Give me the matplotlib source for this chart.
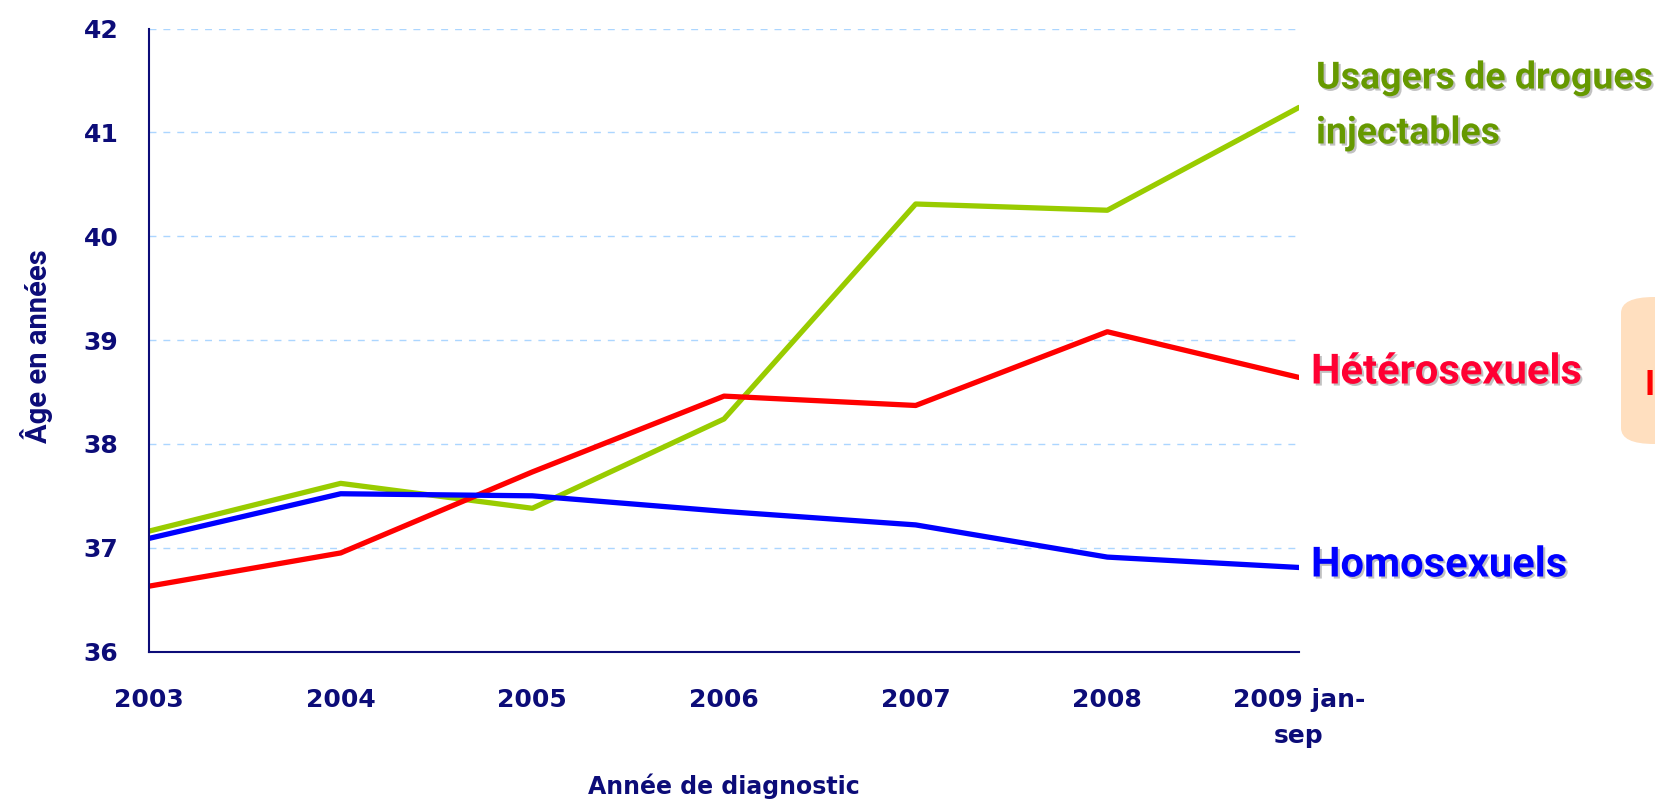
import numpy as np
import matplotlib
matplotlib.use("Agg")
import matplotlib.pyplot as plt
import matplotlib.patheffects as pe
from matplotlib.patches import FancyBboxPatch

years = ["2003", "2004", "2005", "2006", "2007", "2008", "2009 jan-\nsep"]
udi = [37.16, 37.62, 37.38, 38.24, 40.31, 40.25, 41.24]     # usagers de drogues injectables
hetero = [36.63, 36.95, 37.73, 38.46, 38.37, 39.08, 38.64]
homo = [37.09, 37.52, 37.50, 37.35, 37.22, 36.91, 36.81]

navy = "#0c0c78"
labfont = "Roboto"
tickfont = "DejaVu Sans"

fig = plt.figure(figsize=(16.56, 8), dpi=100)
ax = fig.add_axes([149/1656, 1-651.6/800, (1299-149)/1656, (651.6-28.5)/800])

x = np.arange(len(years))
ax.plot(x, udi, color="#99cc00", lw=3.8, solid_capstyle="round")
ax.plot(x, hetero, color="#ff0000", lw=3.8, solid_capstyle="round")
ax.plot(x, homo, color="#0000ff", lw=3.8, solid_capstyle="round")

ax.set_xlim(0, len(years)-1)
ax.set_ylim(36, 42)
ax.set_yticks(range(36, 43))
ax.set_xticks(x)
ax.set_xticklabels(years, fontfamily=tickfont, fontweight="bold", fontsize=18, color=navy,
                   linespacing=1.65)
ax.set_yticklabels([str(v) for v in range(36, 43)], fontfamily=tickfont, fontweight="bold",
                   fontsize=18, color=navy)
ax.tick_params(length=0)
ax.tick_params(axis="x", pad=26)
ax.tick_params(axis="y", pad=22)

for v in range(37, 43):
    ax.axhline(v, color="#acd6ff", lw=1, ls=(0, (5, 5)), zorder=0)

for s in ["top", "right"]:
    ax.spines[s].set_visible(False)
for s in ["left", "bottom"]:
    ax.spines[s].set_color(navy)
    ax.spines[s].set_linewidth(1.5)

ax.set_ylabel("Âge en années", fontfamily=labfont, fontweight="bold", fontsize=21, color=navy,
              va="center")
ax.yaxis.set_label_coords(-0.0974, 0.49)
ax.set_xlabel("Année de diagnostic", fontfamily=tickfont, fontweight="bold", fontsize=17,
              color=navy, va="center")
ax.xaxis.set_label_coords(0.5, -0.2158)

shadow = [pe.withSimplePatchShadow(offset=(1.5, -1.5), shadow_rgbFace="#999999", alpha=0.6)]
fig.text(1316/1656, 1-78/800, "Usagers de drogues", fontfamily=labfont, fontweight="bold",
         fontsize=27, color="#669900", va="center", path_effects=shadow)
fig.text(1316/1656, 1-133/800, "injectables", fontfamily=labfont, fontweight="bold",
         fontsize=27, color="#669900", va="center", path_effects=shadow)
fig.text(1311/1656, 1-372/800, "Hétérosexuels", fontfamily=labfont, fontweight="bold",
         fontsize=30, color="#ff0033", va="center", path_effects=shadow)
fig.text(1311/1656, 1-565/800, "Homosexuels", fontfamily=labfont, fontweight="bold",
         fontsize=30, color="#0000ff", va="center", path_effects=shadow)

# box cut off at right edge
box = FancyBboxPatch((1621/1656, 1-444/800), 0.1, 147/800, boxstyle="round,pad=0,rounding_size=0.02",
                     transform=fig.transFigure, facecolor="#ffdfbf", edgecolor="none")
fig.patches.append(box)
fig.text(1655/1656, 1-386/800, "I", fontfamily=labfont, fontweight="bold", fontsize=25,
         color="#ff0000", va="center", ha="right")

fig.savefig("out.png", dpi=100)
